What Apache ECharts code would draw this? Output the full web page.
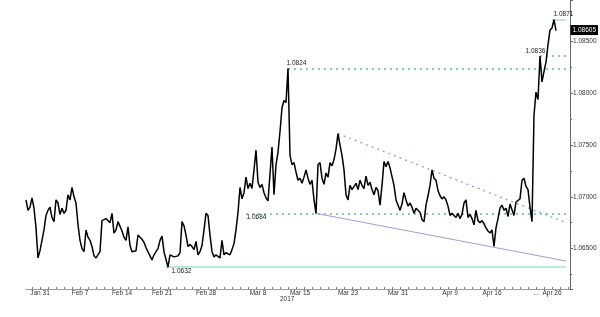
<!DOCTYPE html>
<html><head><meta charset="utf-8">
<script src="https://cdn.jsdelivr.net/npm/echarts@6/dist/echarts.min.js"></script>
<style>html,body{margin:0;padding:0;background:#fff}#c{width:600px;height:317px}</style>
</head><body><div id="c"></div>
<script>
// EUR/USD intraday closes (hourly-ish)
const eurusd = [
1.0697,1.0687,1.0690,1.0699,1.0689,1.0670,1.0641,1.0648,1.0647,1.0668,
1.0682,1.0687,1.0690,1.0680,1.0676,1.0697,1.0694,1.0683,1.0689,1.0684,
1.0687,1.0702,1.0697,1.0709,1.0700,1.0694,1.0673,1.0658,1.0650,1.0647,
1.0668,1.0661,1.0658,1.0652,1.0643,1.0641,1.0642,1.0647,1.0677,1.0678,
1.0679,1.0678,1.0675,1.0684,1.0665,1.0668,1.0676,1.0677,1.0667,1.0661,
1.0658,1.0671,1.0653,1.0647,1.0646,1.0648,1.0663,1.0661,1.0659,1.0656,
1.0651,1.0647,1.0643,1.0639,1.0644,1.0647,1.0650,1.0658,1.0662,1.0647,
1.0646,1.0632,1.0644,1.0643,1.0642,1.0641,1.0643,1.0646,1.0676,1.0672,
1.0663,1.0652,1.0654,1.0652,1.0649,1.0657,1.0644,1.0647,1.0653,1.0668,
1.0684,1.0682,1.0663,1.0647,1.0642,1.0644,1.0645,1.0641,1.0658,1.0644,
1.0646,1.0645,1.0644,1.0649,1.0655,1.0668,1.0685,1.0709,1.0698,1.0704,
1.0719,1.0708,1.0713,1.0708,1.0726,1.0745,1.0714,1.0709,1.0712,1.0704,
1.0699,1.0696,1.0695,1.0748,1.0702,1.0731,1.0743,1.0763,1.0786,1.0793,
1.0791,1.0824,1.0740,1.0731,1.0733,1.0724,1.0716,1.0718,1.0713,1.0719,
1.0726,1.0718,1.0712,1.0716,1.0697,1.0684,1.0731,1.0733,1.0718,1.0712,
1.0723,1.0719,1.0733,1.0730,1.0736,1.0746,1.0761,1.0750,1.0740,1.0726,
1.0702,1.0697,1.0711,1.0707,1.0710,1.0713,1.0707,1.0716,1.0711,1.0708,
1.0720,1.0711,1.0714,1.0707,1.0702,1.0709,1.0706,1.0692,1.0711,1.0734,
1.0729,1.0734,1.0728,1.0729,1.0711,1.0697,1.0692,1.0687,1.0693,1.0704,
1.0697,1.0691,1.0694,1.0690,1.0684,1.0689,1.0688,1.0685,1.0678,1.0676,
1.0692,1.0701,1.0711,1.0726,1.0718,1.0716,1.0706,1.0701,1.0698,1.0700,
1.0697,1.0691,1.0682,1.0684,1.0682,1.0680,1.0684,1.0679,1.0683,1.0694,
1.0697,1.0680,1.0683,1.0679,1.0673,1.0687,1.0677,1.0675,1.0677,1.0674,
1.0670,1.0667,1.0665,1.0668,1.0652,1.0670,1.0679,1.0689,1.0692,1.0687,
1.0689,1.0681,1.0693,1.0692,1.0682,1.0695,1.0694,1.0698,1.0716,1.0718,
1.0710,1.0707,1.0690,1.0676,1.0779,1.0801,1.0794,1.0836,1.0811,1.0821,
1.0830,1.0847,1.0861,1.0863,1.0871,1.08605
];
const slotCount = 273;               // time slots on the axis (data ends before the right edge)
const tickIndex = [7, 27, 48, 68, 90, 116, 137, 161, 186, 212, 233, 255, 263];
const tickText  = ['Jan 31','Feb 7','Feb 14','Feb 21','Feb 28','Mar 8','Mar 15','Mar 23','Mar 31','Apr 9','Apr 16','...','Apr 26'];
const yearLabel = '2017';

// annotated levels: [startIndex, endIndex, value]
const levelHigh   = [263, 270, 1.0871];
const levelBreak  = [257, 270, 1.0836];
const levelPeak   = [131, 270, 1.0824];
const levelSupport= [110, 270, 1.0684];
const levelLow    = [70, 270, 1.0632];
const trendUpper  = [[156, 1.0761], [270, 1.0675]];
const trendLower  = [[145, 1.0684], [270, 1.0638]];
const lastValue   = 1.08605;

const categories = new Array(slotCount).fill('');
tickIndex.forEach((ix, k) => { categories[ix] = tickText[k]; });
const tickSet = new Set(tickIndex);

const FONT = 'Liberation Sans';
const greenDot = { color: '#5cc49c', type: [2, 4], width: 1.5 };
const paleGreen = { color: '#a9e0cb', type: 'solid', width: 1.5 };

function hLine(lv, style) {
  return [{ coord: [lv[0], lv[2]], lineStyle: style }, { coord: [lv[1], lv[2]] }];
}
function txt(ix, val, text, pos, align, valign) {
  return {
    coord: [ix, val], symbol: 'rect', symbolSize: 1, itemStyle: { color: 'rgba(0,0,0,0)' },
    label: { show: true, formatter: text, position: pos, align: align, verticalAlign: valign,
      fontSize: 6.5, fontFamily: FONT, color: '#222' }
  };
}

const chart = echarts.init(document.getElementById('c'));
chart.setOption({
  animation: false,
  grid: { left: 26, right: 30, top: 0, bottom: 28 },
  xAxis: {
    type: 'category', data: categories, boundaryGap: false,
    axisLine: { lineStyle: { color: '#9a9a9a', width: 1 } },
    axisTick: { show: true, inside: true, length: 2, interval: (i) => i % 4 === 3, lineStyle: { color: '#777' } },
    axisLabel: { interval: (i) => tickSet.has(i), fontSize: 6.5, fontFamily: FONT, color: '#333', margin: 1 },
    splitLine: { show: false }
  },
  yAxis: {
    type: 'value', position: 'right', min: 1.0611, max: 1.0890, scale: true,
    axisLine: { show: true, lineStyle: { color: '#666' } },
    axisTick: { show: true, length: 3, lineStyle: { color: '#666' } },
    minorTick: { show: true, splitNumber: 2, length: 2, lineStyle: { color: '#666' } },
    splitLine: { show: false },
    axisLabel: { showMinLabel: false, showMaxLabel: false, fontSize: 6.5, fontFamily: FONT, color: '#333', margin: 3,
      formatter: (v) => v.toFixed(5) }
  },
  graphic: [
    { type: 'text', left: 280, top: 296, style: { text: yearLabel, fontSize: 6.5, fontFamily: FONT, fill: '#333' } }
  ],
  series: [{
    type: 'line', data: eurusd, showSymbol: false, symbol: 'none',
    lineStyle: { color: '#000', width: 1.5 },
    z: 3,
    markLine: {
      silent: true, symbol: 'none', label: { show: false }, z: 2,
      data: [
        hLine(levelHigh, paleGreen),
        hLine(levelBreak, greenDot),
        hLine(levelPeak, greenDot),
        hLine(levelSupport, greenDot),
        hLine(levelLow, paleGreen),
        [{ coord: trendUpper[0], lineStyle: { color: '#8f9fdc', type: [2, 4], width: 1.3 } }, { coord: trendUpper[1] }],
        [{ coord: trendLower[0], lineStyle: { color: '#a19bd9', type: 'solid', width: 1 } }, { coord: trendLower[1] }]
      ]
    },
    markPoint: {
      silent: true, z: 5,
      data: [
        txt(levelHigh[0] + 1, levelHigh[2], String(levelHigh[2]), [0, -1], 'left', 'bottom'),
        txt(levelBreak[0], levelBreak[2], String(levelBreak[2]), [-14, -1], 'left', 'bottom'),
        txt(levelPeak[0], levelPeak[2], String(levelPeak[2]), [-1, -1], 'left', 'bottom'),
        txt(levelSupport[0], levelSupport[2], String(levelSupport[2]), [1, 1], 'left', 'top'),
        txt(levelLow[0] + 3, levelLow[2], String(levelLow[2]), [0, 1], 'left', 'top'),
        {
          coord: [slotCount - 1, lastValue], symbol: 'rect', symbolSize: 1, itemStyle: { color: 'rgba(0,0,0,0)' },
          label: { show: true, formatter: lastValue.toFixed(5), position: [1, 0], align: 'left', verticalAlign: 'middle',
            fontSize: 6.5, fontFamily: FONT, color: '#fff', backgroundColor: '#000', padding: [2, 2, 1, 2] }
        }
      ]
    }
  }]
});
</script>
</body></html>
